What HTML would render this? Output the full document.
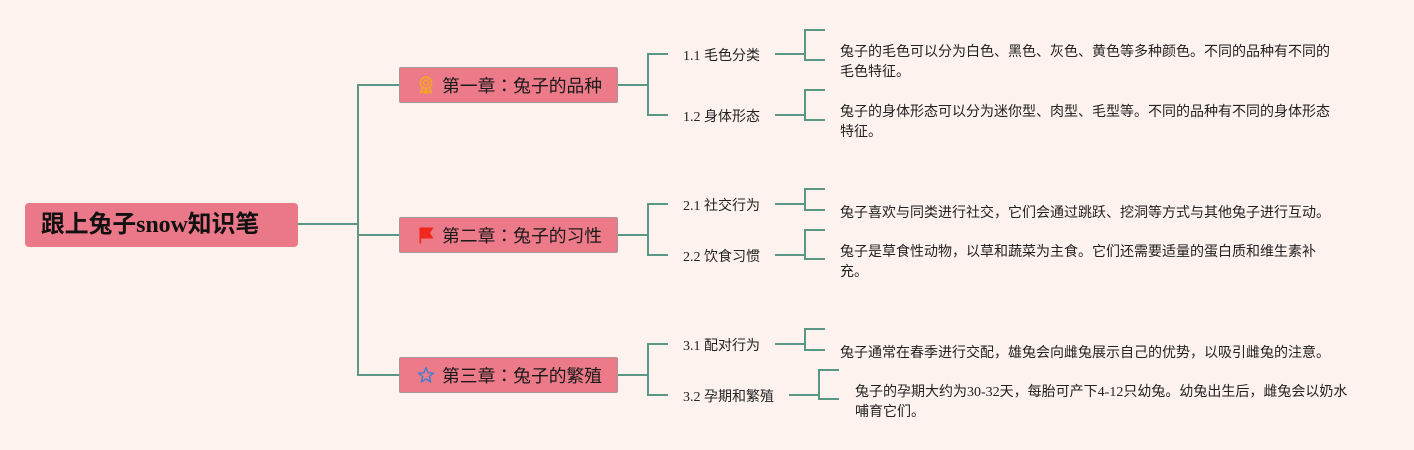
<!DOCTYPE html>
<html>
<head>
<meta charset="utf-8">
<style>
  html,body{margin:0;padding:0;}
  body{width:1414px;height:450px;background:#fdf2ee;position:relative;overflow:hidden;
    font-family:"Liberation Serif","Noto Sans CJK SC",serif;color:#222;}
  .abs{position:absolute;}
  .root{left:25px;top:203px;width:273px;height:44px;background:#ea7888;border-radius:4px;}
  .root span{position:absolute;left:16px;top:0;line-height:44px;font-size:23.8px;font-weight:bold;color:#111;white-space:nowrap;
    font-family:"Liberation Serif","Noto Sans CJK SC",serif;}
  .l1{left:399px;width:217px;height:34px;background:#ec7a89;border:1px solid #a39696;border-radius:2px;}
  .l1 .t{position:absolute;left:42px;top:0;line-height:34px;font-size:17.8px;color:#1a1a1a;white-space:nowrap;
    font-family:"Liberation Sans","Noto Sans CJK SC",sans-serif;}
  .l1 .t .c{font-family:"Noto Sans CJK TC",sans-serif;}
  .l1 .ic{position:absolute;left:18px;top:8px;width:16px;height:18px;}
  .l2{font-size:14px;line-height:20px;white-space:nowrap;color:#222;}
  .d{font-size:14px;line-height:20px;white-space:nowrap;color:#222;}
</style>
</head>
<body>
<svg class="abs" style="left:0;top:0" width="1414" height="450">
  <g stroke="#5a9686" stroke-width="2" fill="none" stroke-linecap="square">
    <path d="M298 224 H358"/>
    <path d="M358 85 V375"/>
    <path d="M358 85 H399"/>
    <path d="M358 235 H399"/>
    <path d="M358 375 H399"/>
    <path d="M618 85 H648"/>
    <path d="M648 54 V115"/>
    <path d="M648 54 H667"/>
    <path d="M648 115 H667"/>
    <path d="M618 235 H648"/>
    <path d="M648 204 V255"/>
    <path d="M648 204 H667"/>
    <path d="M648 255 H667"/>
    <path d="M618 375 H648"/>
    <path d="M648 344 V395"/>
    <path d="M648 344 H667"/>
    <path d="M648 395 H667"/>
    <path d="M776 54 H805 M805 30 V60 M805 30 H824 M805 60 H824"/>
    <path d="M776 115 H805 M805 90 V120 M805 90 H824 M805 120 H824"/>
    <path d="M776 204 H805 M805 189 V210 M805 189 H824 M805 210 H824"/>
    <path d="M776 255 H805 M805 230 V259 M805 230 H824 M805 259 H824"/>
    <path d="M776 344 H805 M805 329 V350 M805 329 H824 M805 350 H824"/>
    <path d="M790 395 H819 M819 370 V399 M819 370 H838 M819 399 H838"/>
  </g>
</svg>

<div class="abs root"><span>跟上兔子snow知识笔</span></div>

<div class="abs l1" style="top:67px;">
  <svg class="ic" viewBox="0 0 16 18">
    <g fill="none" stroke="#f5a524" stroke-width="1.6">
      <circle cx="8" cy="6.8" r="5.6"/>
      <circle cx="8" cy="6.8" r="2.7"/>
      <path d="M4.4 11 L2.8 16.5 L5.5 15.4 L7 17.2 L8 12.6"/>
      <path d="M11.6 11 L13.2 16.5 L10.5 15.4 L9 17.2 L8 12.6"/>
    </g>
  </svg>
  <span class="t">第一章<span class="c">：</span>兔子的品种</span>
</div>
<div class="abs l1" style="top:217px;">
  <svg class="ic" viewBox="0 0 16 18">
    <path d="M1.5 1.5 H15.5 L12 7 L15.5 12.5 H3.2 V17.5 H1.5 Z" fill="#f0271c"/>
  </svg>
  <span class="t">第二章<span class="c">：</span>兔子的习性</span>
</div>
<div class="abs l1" style="top:357px;">
  <svg class="ic" viewBox="0 0 16 18">
    <path d="M8 1.5 L10.1 6.8 L15.5 7.1 L11.3 10.6 L12.7 16 L8 13 L3.3 16 L4.7 10.6 L0.5 7.1 L5.9 6.8 Z" fill="none" stroke="#3d7fd0" stroke-width="1.4" stroke-linejoin="round"/>
  </svg>
  <span class="t">第三章<span class="c">：</span>兔子的繁殖</span>
</div>

<div class="abs l2" style="left:683px;top:47px;">1.1 毛色分类</div>
<div class="abs l2" style="left:683px;top:108px;">1.2 身体形态</div>
<div class="abs l2" style="left:683px;top:197px;">2.1 社交行为</div>
<div class="abs l2" style="left:683px;top:248px;">2.2 饮食习惯</div>
<div class="abs l2" style="left:683px;top:337px;">3.1 配对行为</div>
<div class="abs l2" style="left:683px;top:388px;">3.2 孕期和繁殖</div>

<div class="abs d" style="left:840px;top:43px;">兔子的毛色可以分为白色、黑色、灰色、黄色等多种颜色。不同的品种有不同的<br>毛色特征。</div>
<div class="abs d" style="left:840px;top:103px;">兔子的身体形态可以分为迷你型、肉型、毛型等。不同的品种有不同的身体形态<br>特征。</div>
<div class="abs d" style="left:840px;top:204px;">兔子喜欢与同类进行社交，它们会通过跳跃、挖洞等方式与其他兔子进行互动。</div>
<div class="abs d" style="left:840px;top:243px;">兔子是草食性动物，以草和蔬菜为主食。它们还需要适量的蛋白质和维生素补<br>充。</div>
<div class="abs d" style="left:840px;top:344px;">兔子通常在春季进行交配，雄兔会向雌兔展示自己的优势，以吸引雌兔的注意。</div>
<div class="abs d" style="left:855px;top:383px;">兔子的孕期大约为30-32天，每胎可产下4-12只幼兔。幼兔出生后，雌兔会以奶水<br>哺育它们。</div>
</body>
</html>
